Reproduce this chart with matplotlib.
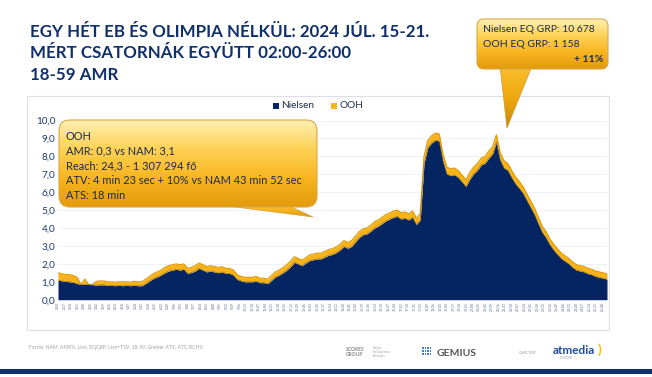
import matplotlib
matplotlib.use("Agg")
import matplotlib.pyplot as plt
import numpy as np
from matplotlib.patches import FancyBboxPatch, Polygon, Rectangle
from matplotlib.colors import LinearSegmentedColormap

plt.rcParams['font.family'] = ['Lato', 'DejaVu Sans']

# minutes from midnight, every 10 minutes, 02:00 - 26:00
minutes = list(range(120, 1561, 10))

nielsen = [1.10, 1.05, 1.02, 1.00, 0.97, 0.90, 0.85, 0.85, 0.85, 0.84,
           0.82, 0.83, 0.83, 0.80, 0.80, 0.78, 0.80, 0.78, 0.80, 0.78,
           0.80, 0.78, 0.78, 0.90, 1.05, 1.18, 1.27, 1.37, 1.50, 1.60,
           1.65, 1.70, 1.65, 1.70, 1.47, 1.52, 1.60, 1.75, 1.65, 1.55,
           1.60, 1.55, 1.50, 1.55, 1.47, 1.47, 1.37, 1.13, 1.05, 1.00,
           1.00, 1.00, 1.03, 0.95, 0.95, 0.90, 1.08, 1.27, 1.37, 1.50,
           1.65, 1.85, 2.08, 2.00, 1.90, 2.05, 2.18, 2.23, 2.28, 2.28,
           2.38, 2.48, 2.53, 2.63, 2.78, 2.97, 2.87, 2.97, 3.22, 3.47,
           3.62, 3.67, 3.82, 4.00, 4.10, 4.25, 4.40, 4.50, 4.60, 4.65,
           4.50, 4.55, 4.45, 4.60, 4.20, 4.45, 7.60, 8.50, 8.75, 8.90,
           8.85, 7.72, 7.02, 6.92, 6.97, 6.82, 6.57, 6.32, 6.72, 7.02,
           7.22, 7.52, 7.62, 7.90, 8.15, 8.80, 7.80, 7.35, 7.22, 6.82,
           6.47, 6.22, 5.94, 5.54, 5.15, 4.75, 4.25, 3.77, 3.47, 3.08,
           2.78, 2.53, 2.30, 2.15, 2.00, 1.80, 1.65, 1.60, 1.55, 1.45,
           1.40, 1.30, 1.25, 1.20, 1.15]

ooh = [0.40, 0.40, 0.38, 0.40, 0.38, 0.35, 0.00, 0.30, 0.00, 0.00,
       0.20, 0.22, 0.22, 0.20, 0.20, 0.20, 0.20, 0.22, 0.20, 0.20,
       0.22, 0.22, 0.22, 0.25, 0.25, 0.27, 0.28, 0.28, 0.30, 0.30,
       0.30, 0.30, 0.30, 0.30, 0.28, 0.28, 0.30, 0.30, 0.30, 0.30,
       0.30, 0.30, 0.30, 0.30, 0.28, 0.28, 0.28, 0.27, 0.25, 0.25,
       0.25, 0.25, 0.27, 0.25, 0.25, 0.25, 0.27, 0.28, 0.28, 0.30,
       0.30, 0.30, 0.32, 0.30, 0.30, 0.30, 0.32, 0.32, 0.32, 0.32,
       0.32, 0.32, 0.32, 0.32, 0.32, 0.33, 0.33, 0.33, 0.33, 0.33,
       0.33, 0.33, 0.33, 0.35, 0.35, 0.35, 0.35, 0.35, 0.35, 0.35,
       0.35, 0.35, 0.35, 0.35, 0.35, 0.35, 0.40, 0.40, 0.40, 0.40,
       0.40, 0.38, 0.38, 0.38, 0.38, 0.38, 0.38, 0.38, 0.38, 0.38,
       0.38, 0.38, 0.38, 0.40, 0.40, 0.40, 0.40, 0.40, 0.38, 0.38,
       0.38, 0.38, 0.36, 0.36, 0.35, 0.35, 0.35, 0.33, 0.33, 0.32,
       0.32, 0.32, 0.30, 0.30, 0.30, 0.30, 0.30, 0.30, 0.30, 0.30,
       0.30, 0.30, 0.30, 0.30, 0.30]

title_lines = ["EGY HÉT EB ÉS OLIMPIA NÉLKÜL: 2024 JÚL. 15-21.",
               "MÉRT CSATORNÁK EGYÜTT 02:00-26:00",
               "18-59 AMR"]
ooh_box_lines = ["OOH", "AMR: 0,3 vs NAM: 3,1", "Reach: 24,3 - 1 307 294 fő",
                 "ATV: 4 min 23 sec + 10% vs NAM 43 min 52 sec", "ATS: 18 min"]
grp_lines = ["Nielsen EQ GRP: 10 678", "OOH EQ GRP: 1 158"]
grp_diff = "+ 11%"
source = "Forrás: NAM, AMR%, Live, EQGRP, Live+TSV, 18-59; Gmeter ATV, ATS, RCH%"

navy = '#052462'
gold = '#f8b318'
title_col = '#10306c'
W, H = 652, 377

fig = plt.figure(figsize=(6.52, 3.77), dpi=100)

# background layer in pixel coordinates
bg = fig.add_axes([0, 0, 1, 1], zorder=0)
bg.set_xlim(0, W)
bg.set_ylim(H, 0)
bg.axis('off')

for i, line in enumerate(title_lines):
    bg.text(30, 32 + i * 21.5, line, fontsize=12.2, fontweight='bold',
            color=title_col, va='center', ha='left')

bg.add_patch(Rectangle((27, 96), 582, 234, fill=False, edgecolor='#dcdfe8', lw=0.8))
bg.add_patch(Rectangle((0, 369), W, 5, color=title_col, lw=0))
bg.text(29, 347, source, fontsize=3.6, color='#a0a0a0', va='center')

# logos (text stand-ins)
bg.text(346, 352, "SCORES\nGROUP", fontsize=3.6, fontweight='bold', color='#8a8a8a',
        va='center', linespacing=0.9)
bg.text(373, 352, "Solution\nfor Cooperative\nResearches", fontsize=1.8, color='#9a9a9a',
        va='center', linespacing=0.9)
for cx in range(4):
    for cy in range(3):
        bg.add_patch(Rectangle((422 + cx * 2.6, 347 + cy * 3.2), 1.6, 1.6,
                               color='#3a7fd0', lw=0))
bg.text(437, 353, "GEMIUS", fontsize=7.5, fontweight='bold', color='#555555',
        va='center')
bg.text(519, 353, "GMETER", fontsize=3.2, color='#9aa3b5', va='center')
bg.text(553, 350, "atmedia", fontsize=8.5, fontweight='bold', color='#1d4f9c',
        va='center')
bg.text(560, 358, "CSOPORT", fontsize=2.2, color='#9aa3b5', va='center')
bg.text(598, 350, ")", fontsize=10, fontweight='bold', color='#f6c200', va='center')

# main chart
ax = fig.add_axes([58 / W, 1 - 299.7 / H, (607 - 58) / W, (299.7 - 120.5) / H], zorder=1)
ax.patch.set_alpha(0)
x = np.array(minutes)
n = np.array(nielsen)
total = n + np.array(ooh)
ax.fill_between(x, 0, n, color=navy, lw=0, zorder=3)
ax.fill_between(x, n, total, color=gold, lw=0, zorder=3)
ax.plot(x, total, color='#e09800', lw=0.8, zorder=4)
ax.plot(x, n, color='#8a7430', lw=0.4, zorder=4)

ax.set_xlim(120, 1560)
ax.set_ylim(0, 10)
ax.set_yticks(np.arange(0, 10.1, 1))
ax.set_yticklabels([f"{v:.1f}".replace('.', ',') for v in np.arange(0, 10.1, 1)],
                   fontsize=7.2, color='#1f3a6e')
ax.yaxis.grid(True, color='#eef1f7', lw=0.7)
ax.set_axisbelow(True)
ticks = np.arange(120, 1561, 17)
ax.set_xticks(ticks)
ax.set_xticklabels([f"{t // 60}:{t % 60:02d}" for t in ticks], rotation=90,
                   fontsize=2.4, color='#5a6b90')
ax.tick_params(length=0, pad=2)
ax.tick_params(axis='x', pad=1.5)
for s in ax.spines.values():
    s.set_visible(False)

# legend
bg.add_patch(Rectangle((273, 103), 6, 6, color=navy, lw=0))
bg.text(281, 106, "Nielsen", fontsize=7.2, color='#1f2d4d', va='center')
bg.add_patch(Rectangle((331, 103), 6, 6, color=gold, lw=0))
bg.text(339, 106, "OOH", fontsize=7.2, color='#1f2d4d', va='center')

# callouts on top
fg = fig.add_axes([0, 0, 1, 1], zorder=2)
fg.axis('off')
grad = np.linspace(0, 1, 256).reshape(-1, 1)
box_cmap = LinearSegmentedColormap.from_list('box', ['#fff0b4', '#fdd255', '#f8b520', '#e29a0c'])
tip_cmap = LinearSegmentedColormap.from_list('tip', ['#fbc02c', '#efa810', '#c68806'])


def gradient_patch(patch, x0, x1, y0, y1, cmap):
    patch.set_facecolor('none')
    fg.add_patch(patch)
    im = fg.imshow(grad, extent=(x0, x1, y1, y0), cmap=cmap, aspect='auto',
                   origin='upper', zorder=patch.get_zorder() - 0.1)
    im.set_clip_path(patch)


# left callout
p1 = Polygon([(212, 204), (313, 217), (285, 204)], closed=True,
             edgecolor='#d5a13a', lw=0.5, zorder=5)
gradient_patch(p1, 212, 313, 195, 217, box_cmap)
b1 = FancyBboxPatch((59, 120), 258, 87, boxstyle="round,pad=0,rounding_size=11",
                    edgecolor='#d9a844', lw=0.8, zorder=6)
gradient_patch(b1, 59, 317, 120, 207, box_cmap)
for i, line in enumerate(ooh_box_lines):
    fg.text(66, 136 + i * 14.8, line, fontsize=7.9, color='#1b2b4b', va='center', zorder=7)

# right callout
p2 = Polygon([(500, 66), (507, 128), (532, 66)], closed=True,
             edgecolor='#d09a30', lw=0.5, zorder=5)
gradient_patch(p2, 500, 532, 66, 128, tip_cmap)
b2 = FancyBboxPatch((477, 19), 131, 50, boxstyle="round,pad=0,rounding_size=7",
                    edgecolor='#d9a844', lw=0.8, zorder=6)
gradient_patch(b2, 477, 608, 19, 69, box_cmap)
for i, line in enumerate(grp_lines):
    fg.text(483, 30 + i * 14.5, line, fontsize=7.5, color='#1b2b4b', va='center', zorder=7)
fg.text(603, 59, grp_diff, fontsize=7.5, fontweight='bold', color='#1b2b4b',
        va='center', ha='right', zorder=7)

fg.set_xlim(0, W)
fg.set_ylim(H, 0)

fig.savefig("out.png", dpi=100)
